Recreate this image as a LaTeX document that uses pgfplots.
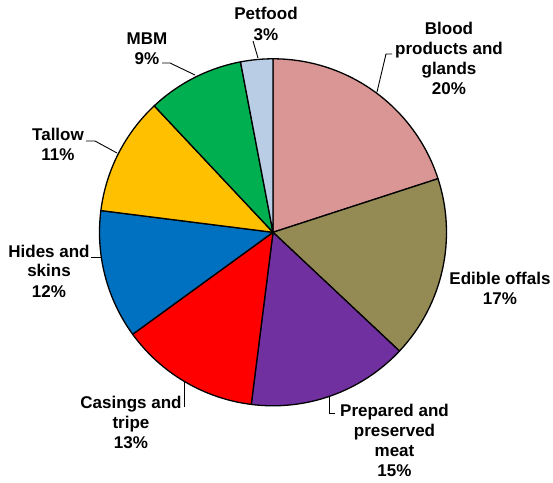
\documentclass[border=0pt]{standalone}
\usepackage{pgfplots}
\pgfplotsset{compat=1.18}
\usepackage{fontspec}
\setmainfont{Liberation Sans}
\definecolor{blood}{HTML}{D99694}
\definecolor{edible}{HTML}{948A54}
\definecolor{prepared}{HTML}{7030A0}
\definecolor{casings}{HTML}{FF0000}
\definecolor{hides}{HTML}{0070C0}
\definecolor{tallow}{HTML}{FFC000}
\definecolor{mbm}{HTML}{00B050}
\definecolor{petfood}{HTML}{B9CDE5}
% #1 = cumulative share before this slice (%), #2 = share (%), #3 = colour
\newcommand{\slice}[3]{%
  \filldraw[fill=#3, draw=black, line width=1.3pt, line join=round]
    (axis cs:273,249.7) -- ++({90-3.6*(#1)}:173.5pt)
    arc[start angle={90-3.6*(#1)}, end angle={90-3.6*(#1+#2)}, radius=173.5pt] -- cycle;}
\begin{document}
\begin{tikzpicture}[lab/.style={anchor=base, inner sep=0pt, font=\fontsize{17}{20}\selectfont\bfseries}]
\begin{axis}[hide axis, scale only axis, width=553pt, height=482pt,
  xmin=0, xmax=553, ymin=0, ymax=482, clip=false]
\path (axis cs:0,0) rectangle (axis cs:553,482);
\slice{0}{20}{blood}
\slice{20}{17}{edible}
\slice{37}{15}{prepared}
\slice{52}{13}{casings}
\slice{65}{12}{hides}
\slice{77}{11}{tallow}
\slice{88}{9}{mbm}
\slice{97}{3}{petfood}
% leader lines
\draw[black, line width=0.9pt] (axis cs:392,428) -- (axis cs:386,428) -- (axis cs:377,390);
\draw[black, line width=0.9pt] (axis cs:162,419) -- (axis cs:170,419) -- (axis cs:195,407);
\draw[black, line width=0.9pt] (axis cs:253,441) -- (axis cs:258,424);
\draw[black, line width=0.9pt] (axis cs:86,341) -- (axis cs:95,341) -- (axis cs:117,329);
\draw[black, line width=0.9pt] (axis cs:91,225) -- (axis cs:101,225);
\draw[black, line width=0.9pt] (axis cs:184,75) -- (axis cs:184,101);
\draw[black, line width=0.9pt] (axis cs:335,69) -- (axis cs:329,69) -- (axis cs:329,85);
% labels
\node[lab] at (axis cs:449,447) {Blood};
\node[lab] at (axis cs:449,427) {products and};
\node[lab] at (axis cs:449,407) {glands};
\node[lab] at (axis cs:449,387) {20\%};
\node[lab] at (axis cs:500,198) {Edible offals};
\node[lab] at (axis cs:500,178) {17\%};
\node[lab] at (axis cs:394.5,66) {Prepared and};
\node[lab] at (axis cs:394.5,46) {preserved};
\node[lab] at (axis cs:394.5,26) {meat};
\node[lab] at (axis cs:394.5,6) {15\%};
\node[lab] at (axis cs:131,74) {Casings and};
\node[lab] at (axis cs:131,54) {tripe};
\node[lab] at (axis cs:131,34) {13\%};
\node[lab] at (axis cs:49,225) {Hides and};
\node[lab] at (axis cs:49,205) {skins};
\node[lab] at (axis cs:49,185) {12\%};
\node[lab] at (axis cs:58,341) {Tallow};
\node[lab] at (axis cs:58,321) {11\%};
\node[lab] at (axis cs:147,437) {MBM};
\node[lab] at (axis cs:147,417) {9\%};
\node[lab] at (axis cs:266,462) {Petfood};
\node[lab] at (axis cs:266,441) {3\%};
\end{axis}
\end{tikzpicture}
\end{document}
